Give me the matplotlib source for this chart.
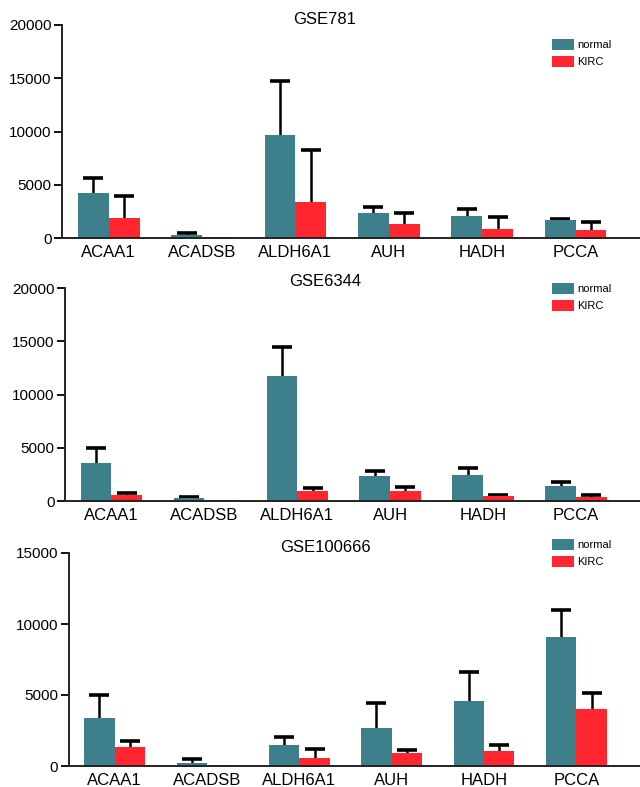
import numpy as np
import matplotlib
matplotlib.use("Agg")
import matplotlib.pyplot as plt
from matplotlib.patches import Patch

plt.rcParams['font.family'] = ['Liberation Sans', 'DejaVu Sans']

genes = ["ACAA1", "ACADSB", "ALDH6A1", "AUH", "HADH", "PCCA"]
groups = ["normal", "KIRC"]

# GSE781
gse781_normal = [4230, 250, 9650, 2320, 2040, 1660]
gse781_normal_sd = [1410, 190, 5080, 560, 660, 160]
gse781_kirc = [1850, 60, 3350, 1290, 815, 720]
gse781_kirc_sd = [2100, 0, 4890, 1060, 1160, 750]

# GSE6344
gse6344_normal = [3590, 280, 11720, 2340, 2440, 1410]
gse6344_normal_sd = [1410, 120, 2720, 440, 650, 400]
gse6344_kirc = [560, 60, 940, 940, 470, 375]
gse6344_kirc_sd = [220, 0, 310, 400, 120, 215]

# GSE100666
gse100666_normal = [3380, 235, 1480, 2700, 4600, 9110]
gse100666_normal_sd = [1640, 235, 540, 1710, 2040, 1850]
gse100666_kirc = [1360, 95, 590, 940, 1080, 4040]
gse100666_kirc_sd = [420, 0, 610, 160, 375, 1120]

teal = "#3D7F8B"
red = "#FF2630"

W, H = 640, 787
fig = plt.figure(figsize=(W / 100, H / 100), dpi=100)

# name, data, ymax, ytick step, left px, top px, bottom px, legend top px
panels = [
    ("GSE781", gse781_normal, gse781_normal_sd, gse781_kirc, gse781_kirc_sd,
     20000, 5000, 62, 25, 238, 39),
    ("GSE6344", gse6344_normal, gse6344_normal_sd, gse6344_kirc, gse6344_kirc_sd,
     20000, 5000, 65, 288, 501, 283),
    ("GSE100666", gse100666_normal, gse100666_normal_sd, gse100666_kirc, gse100666_kirc_sd,
     15000, 5000, 68.5, 553, 766, 539),
]

bw = 0.33
x = np.arange(len(genes))


def err(ax, xs, means, sds):
    # only bars with a non-zero SD get a whisker; drawn behind the bars
    xs, means, sds = np.asarray(xs), np.asarray(means), np.asarray(sds)
    m = sds > 0
    ax.errorbar(xs[m], means[m], yerr=sds[m], fmt="none",
                ecolor="black", elinewidth=1.8, capsize=7, capthick=2.6, zorder=1)


for (title, nm, nsd, km, ksd, ymax, step, lpx, tpx, bpx, legpx) in panels:
    ax = fig.add_axes([lpx / W, 1 - bpx / H, (W - lpx) / W, (bpx - tpx) / H])
    err(ax, x - bw / 2, nm, nsd)
    err(ax, x + bw / 2, km, ksd)
    ax.bar(x - bw / 2, nm, bw, color=teal, zorder=2)
    ax.bar(x + bw / 2, km, bw, color=red, zorder=2)

    ax.set_xlim(-0.5, 5.69)
    ax.set_ylim(0, ymax)
    ax.set_yticks(np.arange(0, ymax + 1, step))
    ax.set_xticks(x)
    ax.set_xticklabels(genes, fontsize=12)
    ax.tick_params(axis="x", length=0, pad=5)
    ax.tick_params(axis="y", length=6, width=1.3, pad=1.5, labelsize=11)

    for s in ["top", "right"]:
        ax.spines[s].set_visible(False)
    for s in ["left", "bottom"]:
        ax.spines[s].set_linewidth(1.4)
        ax.spines[s].set_color("#222222")
        ax.spines[s].set_zorder(3)

    fig.text(325 / W, 1 - (tpx - 6) / H, title,
             ha="center", va="center", fontsize=12)

    handles = [Patch(facecolor=teal), Patch(facecolor=red)]
    ax.legend(handles, groups, loc="upper left",
              bbox_to_anchor=((552 - lpx) / (W - lpx), (bpx - legpx) / (bpx - tpx)),
              frameon=False, fontsize=8, handlelength=2.0, handleheight=1.1,
              handletextpad=0.3, labelspacing=0.55, borderpad=0, borderaxespad=0)

fig.savefig("out.png", dpi=100)
